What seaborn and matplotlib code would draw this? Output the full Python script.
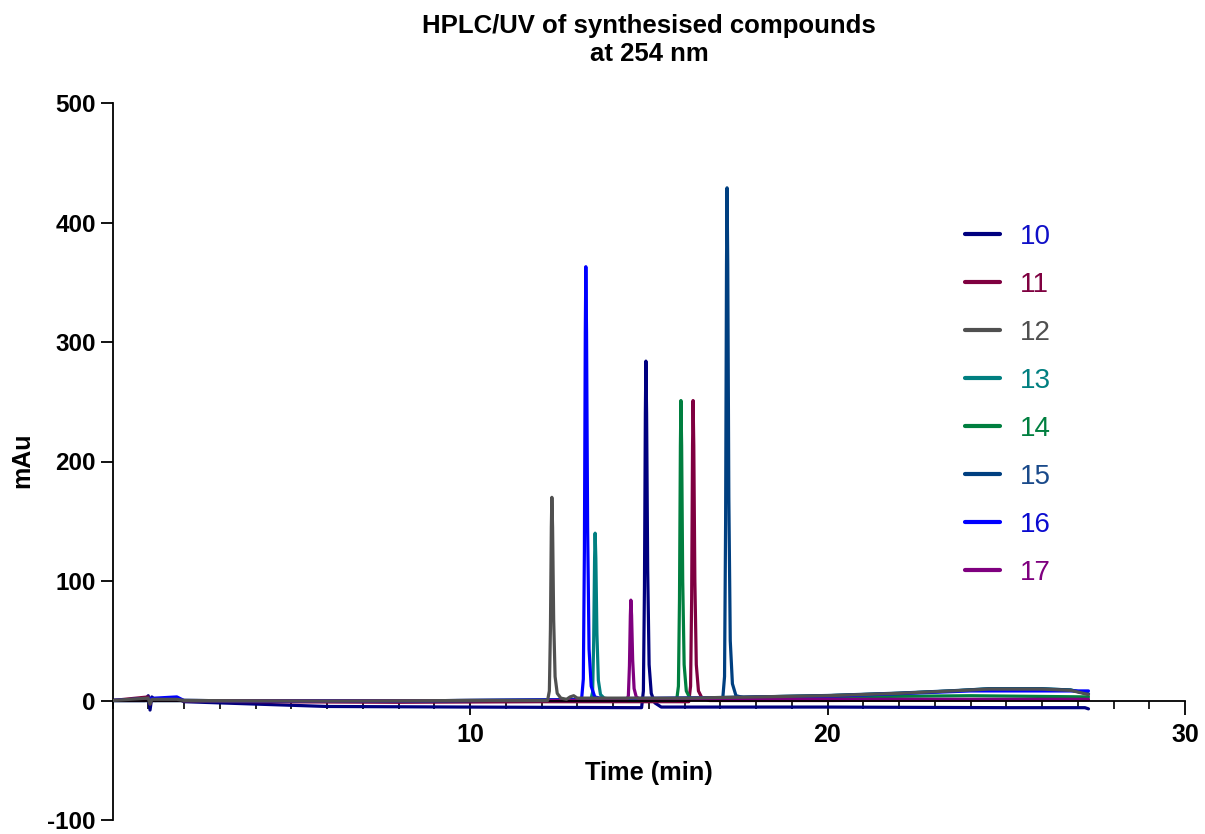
import matplotlib
matplotlib.use("Agg")
import matplotlib.pyplot as plt
import seaborn as sns
import pandas as pd
from matplotlib.ticker import MultipleLocator

# ---------------- data ----------------
compounds = ["10", "11", "12", "13", "14", "15", "16", "17"]

t10 = [0, 0.9, 1.0, 1.05, 1.1, 1.2, 1.8, 2.0, 4, 6, 10, 14.6,
       14.80, 14.85, 14.88, 14.905, 14.92, 14.94, 14.97, 15.01, 15.07, 15.17, 15.35,
       20, 25, 27.2, 27.3]
y10 = [0, 0, 4, -8, 3, 0, 2, -1, -3, -5, -5.5, -6,
       -6, 8, 95, 240, 284, 240, 110, 30, 6, -2, -5.5,
       -5.5, -6, -6, -7]

t11 = [0, 1.0, 1.05, 1.1, 1.8, 2.0, 4, 8, 12, 16.0,
       16.12, 16.17, 16.20, 16.225, 16.24, 16.26, 16.29, 16.33, 16.39, 16.49, 16.7,
       20, 24, 27.3]
y11 = [0, 3, -3, 1, 1, -0.5, -1, -1.5, -1, -1,
       -1, 12, 85, 213, 251, 213, 100, 30, 8, 2, 0,
       0, 0.5, 0.5]

t12 = [0, 1.0, 1.05, 1.1, 1.8, 2.0, 6, 10,
       12.17, 12.22, 12.25, 12.275, 12.29, 12.31, 12.34, 12.38, 12.44, 12.54, 12.7,
       12.8, 12.9, 13.0, 16, 18, 20, 22, 23.5, 24.5, 26, 26.8, 27.3]
y12 = [0, 2, -3, 1, 1, 0, -0.5, 0,
       0, 8, 60, 145, 170, 145, 68, 20, 6, 2, 1,
       3, 4, 2, 2, 3, 4, 6, 8, 9.5, 9.5, 8.5, 5]

t13 = [0, 2, 6, 10,
       13.38, 13.43, 13.46, 13.485, 13.50, 13.52, 13.55, 13.59, 13.65, 13.75, 13.95,
       16, 18, 20, 22, 23.5, 24.5, 26, 26.8, 27.3]
y13 = [0, 0, -0.5, 0,
       0.5, 7, 50, 119, 140, 119, 56, 17, 5, 2, 1,
       2, 3, 4, 6, 8, 9.8, 9.8, 8.8, 5.5]

t14 = [0, 2, 6, 10,
       15.78, 15.83, 15.86, 15.885, 15.90, 15.92, 15.95, 15.99, 16.05, 16.15, 16.35,
       18, 20, 24, 27.3]
y14 = [0, 0, -0.5, 0,
       0, 12, 85, 213, 251, 213, 100, 30, 8, 2, 1,
       2, 3, 4, 3]

t15 = [0, 2, 6, 10, 16,
       17.07, 17.12, 17.15, 17.175, 17.19, 17.21, 17.24, 17.28, 17.34, 17.44, 17.65,
       18, 20, 22, 23.5, 24.5, 26, 26.8, 27.3]
y15 = [0, 0, -0.5, 0, 1.5,
       1.5, 20, 150, 365, 429, 365, 170, 50, 14, 4, 2.5,
       3, 4.2, 6.2, 8.2, 9.8, 9.8, 8.8, 5.5]

t16 = [0, 1.8, 2.0, 6, 10,
       13.12, 13.17, 13.20, 13.225, 13.24, 13.26, 13.29, 13.33, 13.39, 13.49, 13.7,
       16, 20, 24, 27.3]
y16 = [0, 3, 0, -0.5, 0,
       0.5, 18, 125, 308, 363, 308, 145, 43, 12, 3, 1.5,
       2, 3.5, 8, 8]

t17 = [0, 2, 6, 10,
       14.38, 14.43, 14.46, 14.485, 14.50, 14.52, 14.55, 14.59, 14.65, 14.75, 14.95,
       18, 22, 27.3]
y17 = [0, 0, -0.5, 0,
       0, 4, 29, 71, 84, 71, 34, 10, 3, 1, 0.5,
       1, 1, 1]

line_colors = ["#00007F", "#7F0040", "#505050", "#007F80", "#007F3F", "#003F80", "#0000FF", "#7F007F"]
text_colors = ["#1010C8", "#7F0040", "#505050", "#007F80", "#007F3F", "#1A4A8A", "#0A0AD0", "#7F007F"]

x_ticks = [10, 20, 30]
y_ticks = [-100, 0, 100, 200, 300, 400, 500]

# ---------------- build long table ----------------
times = [t10, t11, t12, t13, t14, t15, t16, t17]
values = [y10, y11, y12, y13, y14, y15, y16, y17]
rows = []
for name, ts, ys in zip(compounds, times, values):
    for t, v in zip(ts, ys):
        rows.append({"Time": t, "mAu": v, "Compound": name})
df = pd.DataFrame(rows)

# ---------------- plotting ----------------
sns.set_style("white")
plt.rcParams["font.family"] = ["Liberation Sans", "DejaVu Sans"]
plt.rcParams["text.color"] = "black"
plt.rcParams["axes.labelcolor"] = "black"
plt.rcParams["xtick.color"] = "black"
plt.rcParams["ytick.color"] = "black"
plt.rcParams["axes.unicode_minus"] = False

fig = plt.figure(figsize=(12.05, 8.34), dpi=100)
ax = fig.add_axes([112.5 / 1205, 1 - 820 / 834, (1185 - 112.5) / 1205, (820 - 103) / 834])

sns.lineplot(data=df, x="Time", y="mAu", hue="Compound", hue_order=compounds,
             palette=dict(zip(compounds, line_colors)), estimator=None, sort=False,
             linewidth=2.3, ax=ax)
# grey trace sits on top of the rising baselines, as in the original
ax.lines[2].set_zorder(3)

ax.set_xlim(0, 30)
ax.set_ylim(-100, 500)
ax.spines["top"].set_visible(False)
ax.spines["right"].set_visible(False)
ax.spines["bottom"].set_position(("data", 0))
for s in ("left", "bottom"):
    ax.spines[s].set_color("black")
    ax.spines[s].set_linewidth(1.3)

ax.set_xticks(x_ticks)
ax.xaxis.set_minor_locator(MultipleLocator(1))
ax.set_yticks(y_ticks)
ax.tick_params(axis="x", which="major", direction="out", length=10, width=1.3,
               labelsize=18, pad=6, bottom=True)
ax.tick_params(axis="x", which="minor", direction="out", length=6, width=1.2, bottom=True)
ax.tick_params(axis="y", which="major", direction="out", length=9, width=1.3,
               labelsize=17.5, pad=3, left=True)
for lab in ax.get_xticklabels() + ax.get_yticklabels():
    lab.set_fontweight("bold")

ax.set_xlabel("")
ax.set_ylabel("")
fig.text(649 / 1205, 1 - 773 / 834, "Time (min)", ha="center", va="center",
         fontsize=18.3, fontweight="bold")
fig.text(22 / 1205, 1 - 460 / 834, "mAu", ha="center", va="center", rotation=90,
         fontsize=18, fontweight="bold")
fig.text(649 / 1205, 1 - 40 / 834, "HPLC/UV of synthesised compounds\nat 254 nm",
         ha="center", va="center", fontsize=18.5, fontweight="bold", linespacing=1.25)

leg = ax.legend(loc="upper left", bbox_to_anchor=(940 / 1205, 1 - 199 / 834),
                bbox_transform=fig.transFigure, frameon=False, fontsize=20,
                handlelength=1.26, handletextpad=0.72, labelspacing=0.79)
for txt, c in zip(leg.get_texts(), text_colors):
    txt.set_color(c)
for h in leg.get_lines():
    h.set_linewidth(3)

fig.savefig("out.png", dpi=100)
